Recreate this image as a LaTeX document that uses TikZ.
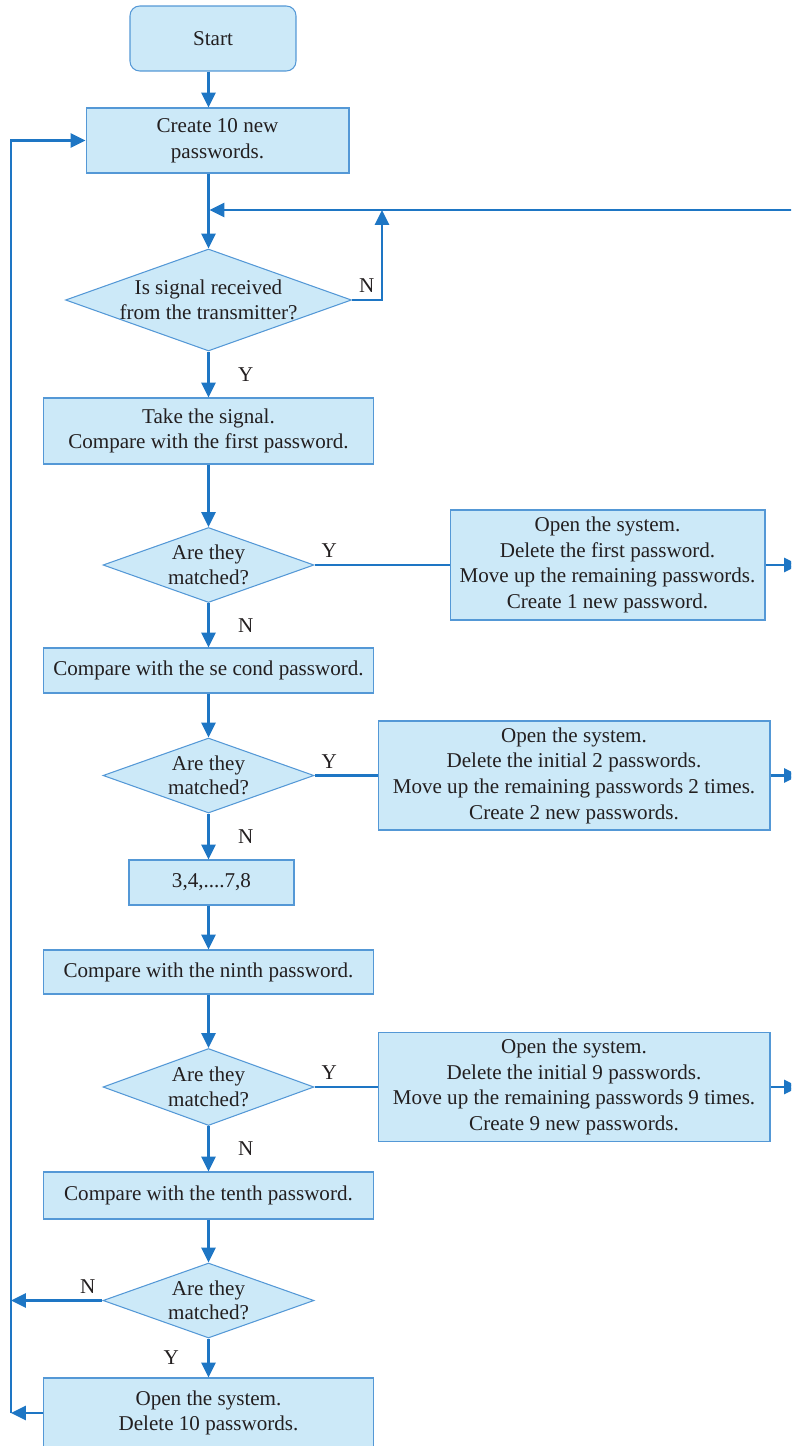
\documentclass[tikz,border=0pt]{standalone}
\usepackage{fontspec}
\setmainfont{Liberation Serif}
\usetikzlibrary{arrows.meta, positioning, shapes.geometric, calc}

\definecolor{boxfill}{RGB}{204,233,248}
\definecolor{boxline}{RGB}{84,152,214}
\definecolor{flowline}{RGB}{30,118,196}
\definecolor{txt}{RGB}{35,31,32}

\tikzset{
  flowbase/.style={draw=boxline, fill=boxfill, line width=0.6pt, inner sep=0pt, align=center, text=txt, font=\fontsize{12}{14.6}\selectfont},
  procbox/.style={flowbase, rectangle},
  startbox/.style={flowbase, rectangle, rounded corners=5.5pt},
  decision/.style={flowbase, diamond},
  arr/.style={draw=flowline, line width=1.5pt, -{Triangle[length=8.5pt, width=8pt]}},
  link/.style={draw=flowline, line width=1.5pt},
  yn/.style={font=\fontsize{12}{14}\selectfont, text=txt},
}

\begin{document}
\begin{tikzpicture}[x=0.02cm, y=-0.02cm]
  \useasboundingbox (0,0) rectangle (791,1446);
  \clip (0,0) rectangle (791,1446);

  % Main column
  \node[startbox, minimum width=3.32cm, minimum height=1.3cm] (start) at (213,38.5) {Start};
  \node[procbox, minimum width=5.26cm, minimum height=1.3cm] (create) at (217.5,140.5) {Create 10 new\\passwords.};
  \node[decision, minimum width=5.72cm, minimum height=2.04cm,
        label={[yn, align=center]center:Is signal received\\from the transmitter?}] (recv) at (208.5,300) {};
  \node[procbox, minimum width=6.62cm, minimum height=1.32cm] (take) at (208.5,431) {Take the signal.\\Compare with the first password.};
  \node[decision, minimum width=4.22cm, minimum height=1.5cm,
        label={[yn, align=center]center:Are they\\matched?}] (match1) at (208.5,565) {};
  \node[procbox, minimum width=6.62cm, minimum height=0.9cm] (cmp2) at (208.5,670.5) {Compare with the se cond password.};
  \node[decision, minimum width=4.22cm, minimum height=1.5cm,
        label={[yn, align=center]center:Are they\\matched?}] (match2) at (208.5,775.5) {};
  \node[procbox, minimum width=3.3cm, minimum height=0.9cm] (mid) at (211.5,882.5) {3,4,....7,8};
  \node[procbox, minimum width=6.62cm, minimum height=0.88cm] (cmp9) at (208.5,972) {Compare with the ninth password.};
  \node[decision, minimum width=4.22cm, minimum height=1.54cm,
        label={[yn, align=center]center:Are they\\matched?}] (match3) at (208.5,1087) {};
  \node[procbox, minimum width=6.62cm, minimum height=0.94cm] (cmp10) at (208.5,1195.5) {Compare with the tenth password.};
  \node[decision, minimum width=4.22cm, minimum height=1.5cm,
        label={[yn, align=center]center:Are they\\matched?}] (match4) at (208.5,1300.5) {};
  \node[procbox, minimum width=6.62cm, minimum height=1.4cm] (final) at (208.5,1413) {Open the system.\\Delete 10 passwords.};

  % Open boxes on the right
  \node[procbox, minimum width=6.3cm, minimum height=2.2cm] (open1) at (607.5,565)
    {Open the system.\\Delete the first password.\\Move up the remaining passwords.\\Create 1 new password.};
  \node[procbox, minimum width=7.84cm, minimum height=2.18cm] (open2) at (574,775.5)
    {Open the system.\\Delete the initial 2 passwords.\\Move up the remaining passwords 2 times.\\Create 2 new passwords.};
  \node[procbox, minimum width=7.84cm, minimum height=2.18cm] (open3) at (574,1087)
    {Open the system.\\Delete the initial 9 passwords.\\Move up the remaining passwords 9 times.\\Create 9 new passwords.};

  % Helper points
  \coordinate (trunk) at (208.5,0);
  \coordinate (edge) at (799,0);
  \coordinate (back) at (800,210);
  \coordinate (join) at (209.5,210);
  \coordinate (nloop) at (382,210);
  \coordinate (lbot) at (11,1413);
  \coordinate (ltop) at (11,140.5);

  % Trunk
  \draw[arr] (start.south -| trunk) -- (create.north -| trunk);
  \draw[arr] (create.south -| trunk) -- (recv.north);
  \draw[arr] (recv.south) -- node[yn, right=0.45cm] {Y} (take.north);
  \draw[arr] (take.south) -- (match1.north);
  \draw[arr] (match1.south) -- node[yn, right=0.45cm] {N} (cmp2.north);
  \draw[arr] (cmp2.south) -- (match2.north);
  \draw[arr] (match2.south) -- node[yn, right=0.45cm] {N} (mid.north -| trunk);
  \draw[arr] (mid.south -| trunk) -- (cmp9.north);
  \draw[arr] (cmp9.south) -- (match3.north);
  \draw[arr] (match3.south) -- node[yn, right=0.45cm] {N} (cmp10.north);
  \draw[arr] (cmp10.south) -- (match4.north);
  \draw[arr] (match4.south) -- node[yn, left=0.45cm] {Y} (final.north);

  % Waiting loop
  \draw[arr] (back) -- (join);
  \draw[arr] (recv.east) -- node[yn, pos=0, above right] {N} (recv.east -| nloop) -- (nloop);

  % Matches
  \draw[link] (match1.east) -- node[yn, pos=0, above right] {Y} (open1.west);
  \draw[link] (match2.east) -- node[yn, pos=0, above right] {Y} (open2.west);
  \draw[link] (match3.east) -- node[yn, pos=0, above right] {Y} (open3.west);
  \foreach \n in {open1, open2, open3} {
    \coordinate (\n-out) at (\n.east -| edge);
    \draw[arr] (\n.east) -- (\n-out);
  }

  % Return to start
  \draw[arr] (match4.west) -- node[yn, pos=0, above left] {N} (match4.west -| lbot);
  \draw[arr] (final.west) -- (final.west -| lbot);
  \draw[arr] (lbot) -- (ltop) -- (create.west);
\end{tikzpicture}
\end{document}
